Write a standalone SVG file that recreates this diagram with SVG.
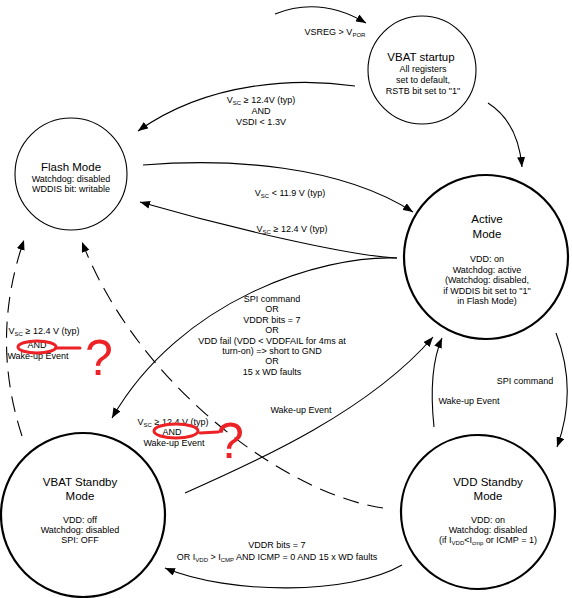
<svg xmlns="http://www.w3.org/2000/svg" width="572" height="598" viewBox="0 0 572 598">
<style>
  .t { font-family: "Liberation Sans", Arial, sans-serif; fill: #000; text-anchor: middle; }
  .h { font-size: 11.5px; }
  .d { font-size: 9px; }
  .s { font-size: 6px; }
  .thin { fill: #fff; stroke: #000; stroke-width: 1.1; }
  .thick { fill: #fff; stroke: #000; stroke-width: 2.2; }
  .c { fill: none; stroke: #000; stroke-width: 1.1; marker-end: url(#ah); }
  .dash { stroke-dasharray: 16 9; }
  .red { fill: none; stroke: #ec2227; stroke-width: 3; stroke-linecap: round; stroke-linejoin: round; }
  .q { font-family: "Liberation Sans", Arial, sans-serif; fill: #ec2227; text-anchor: middle; font-size: 50px; }
</style>
<defs>
  <marker id="ah" viewBox="0 0 10 8" refX="10" refY="4" markerWidth="10" markerHeight="8" markerUnits="userSpaceOnUse" orient="auto">
    <path d="M0,0 L10,4 L0,8 z" fill="#000" stroke="none"/>
  </marker>
</defs>
<rect width="572" height="598" fill="#fff"/>

<g id="connectors">
  <path class="c" d="M275,14 Q320,-4 366,23"/>
  <path class="c" d="M355,86 C300,78 210,80 138,131"/>
  <path class="c" d="M488,103 Q518,122 522,167"/>
  <path class="c" d="M143,165 C230,158 340,165 413,212"/>
  <path class="c" d="M397,258 C350,256 230,228 140,202"/>
  <path class="c" d="M397,258 C320,255 180,300 112,418"/>
  <path class="c" d="M185,493 C260,460 370,410 433,337"/>
  <path class="c" d="M434,427 Q428,370 442,338"/>
  <path class="c" d="M556,333 Q578,390 557,447"/>
  <path class="c" d="M402,565 C350,595 230,595 165,568"/>
  <path class="c dash" d="M22,436 Q-10,338 24,240"/>
  <path class="c dash" d="M383,508 C290,495 140,390 82,242"/>

  <text class="t d" x="335" y="35">VSREG &gt; V<tspan class="s" dy="1.5">POR</tspan></text>
  <text class="t d" x="261" y="103">V<tspan class="s" dy="1.5">SC</tspan><tspan dy="-1.5"> ≥ 12.4V (typ)</tspan></text>
  <text class="t d" x="261" y="114">AND</text>
  <text class="t d" x="261" y="125">VSDI &lt; 1.3V</text>
  <text class="t d" x="290" y="196">V<tspan class="s" dy="1.5">SC</tspan><tspan dy="-1.5"> &lt; 11.9 V (typ)</tspan></text>
  <text class="t d" x="292" y="232">V<tspan class="s" dy="1.5">SC</tspan><tspan dy="-1.5"> ≥ 12.4 V (typ)</tspan></text>
  <text class="t d" x="272" y="302">SPI command</text>
  <text class="t d" x="272" y="312.4">OR</text>
  <text class="t d" x="272" y="322.8">VDDR bits = 7</text>
  <text class="t d" x="272" y="333.2">OR</text>
  <text class="t d" x="272" y="343.6">VDD fail (VDD &lt; VDDFAIL for  4ms at</text>
  <text class="t d" x="272" y="354">turn-on) =&gt; short to GND</text>
  <text class="t d" x="272" y="364.4">OR</text>
  <text class="t d" x="272" y="374.8">15 x WD faults</text>
  <text class="t d" x="301" y="413">Wake-up Event</text>
  <text class="t d" x="469" y="404">Wake-up Event</text>
  <text class="t d" x="525" y="384">SPI command</text>
  <text class="t d" x="277" y="548">VDDR bits = 7</text>
  <text class="t d" x="277" y="560">OR I<tspan class="s" dy="1.5">VDD</tspan><tspan dy="-1.5"> &gt; I</tspan><tspan class="s" dy="1.5">CMP</tspan><tspan dy="-1.5"> AND ICMP = 0 AND 15 x WD faults</tspan></text>
  <text class="t d" x="44" y="334">V<tspan class="s" dy="1.5">SC</tspan><tspan dy="-1.5"> ≥ 12.4 V (typ)</tspan></text>
  <text class="t d" x="37" y="348">AND</text>
  <text class="t d" x="38" y="359">Wake-up Event</text>
  <text class="t d" x="173" y="425">V<tspan class="s" dy="1.5">SC</tspan><tspan dy="-1.5"> ≥ 12.4 V (typ)</tspan></text>
  <text class="t d" x="172" y="435">AND</text>
  <text class="t d" x="174" y="446">Wake-up Event</text>
</g>

<g id="vbat-startup">
  <circle class="thin" cx="422" cy="70" r="54"/>
  <text class="t h" x="421" y="61">VBAT startup</text>
  <text class="t d" x="423" y="72">All registers</text>
  <text class="t d" x="423" y="83">set to default,</text>
  <text class="t d" x="423" y="94">RSTB bit set to "1"</text>
</g>

<g id="flash-mode">
  <circle class="thin" cx="71" cy="174" r="56"/>
  <text class="t h" x="71" y="171">Flash Mode</text>
  <text class="t d" x="71" y="182">Watchdog: disabled</text>
  <text class="t d" x="71" y="192">WDDIS bit: writable</text>
</g>

<g id="active-mode">
  <circle class="thick" cx="486" cy="257" r="82"/>
  <text class="t h" x="487" y="223">Active</text>
  <text class="t h" x="487" y="238">Mode</text>
  <text class="t d" x="487" y="262">VDD: on</text>
  <text class="t d" x="487" y="272.5">Watchdog: active</text>
  <text class="t d" x="487" y="283">(Watchdog: disabled,</text>
  <text class="t d" x="487" y="293.5">if WDDIS bit set to "1"</text>
  <text class="t d" x="487" y="304">in Flash Mode)</text>
</g>

<g id="vbat-standby">
  <circle class="thick" cx="83" cy="515" r="82"/>
  <text class="t h" x="80" y="486">VBAT Standby</text>
  <text class="t h" x="80" y="500">Mode</text>
  <text class="t d" x="80" y="523">VDD: off</text>
  <text class="t d" x="80" y="533">Watchdog: disabled</text>
  <text class="t d" x="80" y="543">SPI: OFF</text>
</g>

<g id="vdd-standby">
  <circle class="thick" cx="478" cy="512" r="77"/>
  <text class="t h" x="488" y="486">VDD Standby</text>
  <text class="t h" x="488" y="500">Mode</text>
  <text class="t d" x="488" y="523">VDD: on</text>
  <text class="t d" x="488" y="533">Watchdog: disabled</text>
  <text class="t d" x="488" y="543">(if I<tspan class="s" dy="1.5">VDD</tspan><tspan dy="-1.5">&lt;I</tspan><tspan class="s" dy="1.5">cmp</tspan><tspan dy="-1.5"> or ICMP = 1)</tspan></text>
</g>

<g id="annotations">
  <ellipse class="red" cx="37" cy="347" rx="19" ry="6"/>
  <path class="red" d="M56,348 L80,348"/>
  <text class="q" x="99" y="375">?</text>
  <ellipse class="red" cx="176" cy="431" rx="22" ry="7"/>
  <path class="red" d="M200,433 L218,432"/>
  <text class="q" x="230" y="458">?</text>
</g>
</svg>
